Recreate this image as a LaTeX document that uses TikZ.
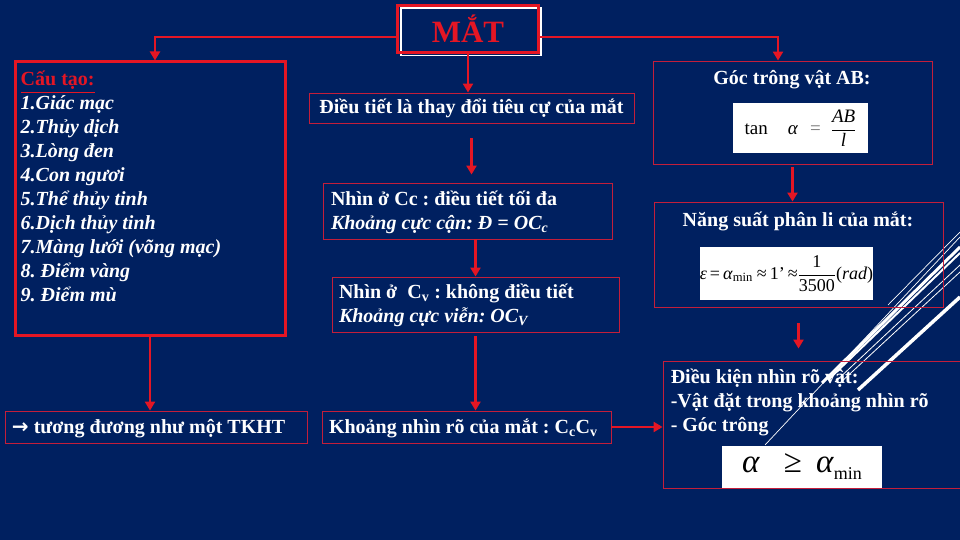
\documentclass[tikz,border=0pt]{standalone}
\usepackage{amsmath}
\usepackage{fontspec}
\setmainfont{Liberation Serif}
\newfontfamily\symfont{DejaVu Sans}
\usetikzlibrary{arrows.meta}
\definecolor{slidebg}{RGB}{0,32,96}
\definecolor{linered}{RGB}{228,22,36}
\definecolor{boxred}{RGB}{196,30,58}
\newcommand{\bodyfont}{\frenchspacing\bfseries\fontsize{20}{24}\selectfont}
\tikzset{
  redline/.style={draw=linered, line width=2.8pt},
  redarrow/.style={redline, -{Triangle[width=10pt,length=9pt]}},
  thinbox/.style={draw=boxred, line width=0.9pt, text=white, font=\bodyfont, inner sep=0pt},
  oneline/.style={thinbox, text height=16pt, text depth=4pt},
  whitebox/.style={fill=white, text=black, inner sep=0pt},
  plaintext/.style={text=white, font=\bodyfont, inner sep=0pt},
  deco/.style={white, line cap=butt}
}

\begin{document}
\begin{tikzpicture}[x=1pt,y=-1pt]
    \clip (0,0) rectangle (960,540);
    \fill[slidebg] (0,0) rectangle (960,540);
    \foreach \xa/\ya/\xb/\yb/\w in {
      765/445/960/237/0.7, 888/305/960/232/0.7,
      822/383/960/247/3, 828/380/960/253/2,
      835/382/960/265/0.8, 840/383/960/272/0.8,
      858/390/960/297/3.5}
    \draw[deco, line width=\w pt] (\xa,\ya) -- (\xb,\yb);

    \node[minimum width=140pt, minimum height=47pt, inner sep=0pt, text=linered,
      font=\bfseries\fontsize{31}{31}\selectfont] (mat) at (468,29) {MẮT};
    \draw[white, line width=1.6pt] ([xshift=3pt,yshift=-3pt]mat.north west) rectangle ([xshift=3pt,yshift=-3pt]mat.south east);
    \draw[linered, line width=3pt] (mat.north west) rectangle (mat.south east);

    \node[draw=linered, line width=3pt, minimum width=270pt, minimum height=273pt, inner sep=0pt] (cautao) at (150,198.5) {};
    \node[plaintext, anchor=north west, align=flush left, font=\frenchspacing\bfseries\itshape\fontsize{20}{24}\selectfont] (cautaolist)
      at ([xshift=7pt,yshift=-10pt]cautao.north west)
      {{\color{linered}\upshape\underline{Cấu tạo:}}\\
       1.Giác mạc\\2.Thủy dịch\\3.Lòng đen\\4.Con ngươi\\5.Thể thủy tinh\\
       6.Dịch thủy tinh\\7.Màng lưới (võng mạc)\\8. Điểm vàng\\9. Điểm mù};
    \node[oneline, minimum width=302pt, minimum height=32pt, text width=288pt, align=flush left] (tkht) at (156,427)
      {{\symfont →} tương đương như một TKHT};

    \node[oneline, minimum width=325pt, minimum height=30pt] (dieutiet) at (471.5,108) {Điều tiết là thay đổi tiêu cự của mắt};
    \node[thinbox, minimum width=289pt, minimum height=56pt, text width=273pt, align=flush left] (nhincc) at (467.5,211)
      {\rule{0pt}{17pt}Nhìn ở Cc : điều tiết tối đa\\\textit{Khoảng cực cận: Đ = OC\textsubscript{c}}};
    \node[thinbox, minimum width=287pt, minimum height=55pt, text width=273pt, align=flush left] (nhincv) at (475.5,304.5)
      {\rule{0pt}{17pt}Nhìn ở\ \ C\textsubscript{v} : không điều tiết\\\textit{Khoảng cực viễn: OC\textsubscript{V}}};
    \node[oneline, minimum width=289pt, minimum height=32pt, text width=275pt, align=flush left] (khoangnhin) at (466.5,427)
      {Khoảng nhìn rõ của mắt : C\textsubscript{c}C\textsubscript{v}};

    \node[thinbox, minimum width=279pt, minimum height=103pt] (goc) at (792.5,112.5) {};
    \node[plaintext] (goctitle) at (792,80) {Góc trông vật AB:};
    \node[whitebox, minimum width=135pt, minimum height=50pt, font=\fontsize{19}{22}\selectfont] (gocf) at (800.5,128)
      {tan\hspace{20pt}\textit{α}\hspace{12pt}{\color{black!55}=}\hspace{10pt}$\dfrac{\text{\itshape AB}}{\text{\itshape l}}$\hspace{14pt}};

    \node[thinbox, minimum width=289pt, minimum height=105pt] (nangsuat) at (798.5,254.5) {};
    \node[plaintext] (nstitle) at (798,221) {Năng suất phân li của mắt:};
    \node[whitebox, minimum width=171pt, minimum height=53pt, font=\fontsize{18}{20}\selectfont] (nsf) at (786.5,273.5)
      {\textit{ε}\hspace{3pt}=\hspace{3pt}\textit{α}\textsubscript{min}\hspace{4pt}≈\hspace{3pt}1'\hspace{3pt}≈$\dfrac{\text{1}}{\text{3500}}$(\textit{rad})};

    \node[thinbox, minimum width=337pt, minimum height=127pt] (dieukien) at (831.5,424.5) {};
    \node[plaintext, anchor=north west, align=flush left] (dktext)
      at ([xshift=8pt,yshift=-8pt]dieukien.north west)
      {Điều kiện nhìn rõ vật:\\-Vật đặt trong khoảng nhìn rõ\\- Góc trông};
    \node[whitebox, minimum width=160pt, minimum height=42pt, font=\fontsize{33}{33}\selectfont] (dkf) at (802,467)
      {\textit{α}\hspace{24pt}≥\hspace{14pt}\textit{α}\raisebox{-7pt}{\fontsize{18}{18}\selectfont min}\hspace{10pt}};

    \coordinate (jl) at (155,37);
    \coordinate (jr) at (778,37);
    \draw[redarrow] (mat.west |- jl) -| (cautao.north -| jl);
    \draw[redarrow] (mat.east |- jr) -| (goc.north -| jr);
    \draw[redarrow] (mat.south) -- (mat.south |- dieutiet.north);
    \draw[redarrow, shorten <=15pt, shorten >=8pt] (dieutiet.south) -- (dieutiet.south |- nhincc.north);
    \draw[redarrow] (nhincv.north |- nhincc.south) -- (nhincv.north);
    \draw[redarrow, shorten <=4pt] (nhincv.south) -- (nhincv.south |- khoangnhin.north);
    \draw[redarrow] (cautao.south) -- (cautao.south |- tkht.north);
    \draw[redarrow] (khoangnhin.east) -- (khoangnhin.east -| dieukien.west);
    \draw[redarrow, shorten <=3pt] (goc.south) -- (goc.south |- nangsuat.north);
    \draw[redarrow, shorten <=16pt, shorten >=12pt] (nangsuat.south) -- (nangsuat.south |- dieukien.north);
\end{tikzpicture}
\end{document}
